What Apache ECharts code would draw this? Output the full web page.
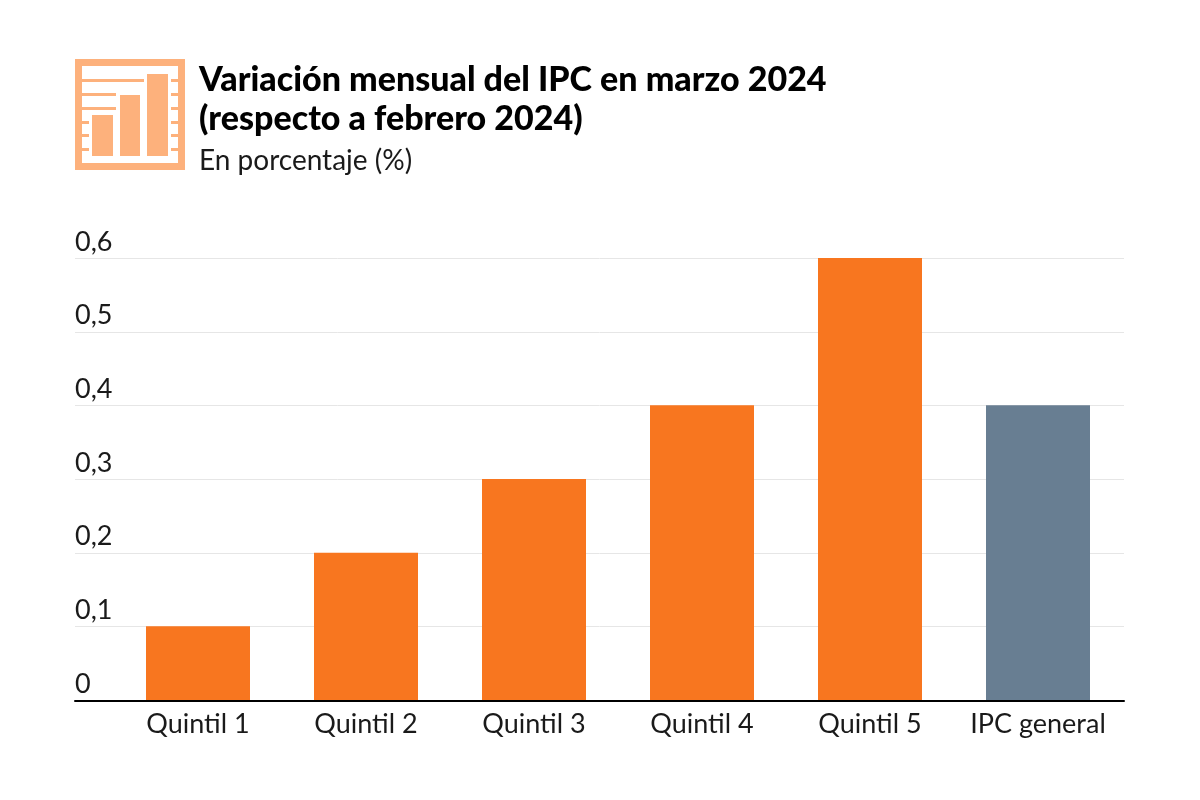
<!DOCTYPE html>
<html>
<head>
<meta charset="utf-8">
<style>
  html, body { margin: 0; padding: 0; background: #fff; }
  #chart { width: 1200px; height: 800px; }
</style>
<script src="https://cdn.jsdelivr.net/npm/echarts@6/dist/echarts.min.js"></script>
</head>
<body>
<div id="chart"></div>
<script>
var categories = ['Quintil 1', 'Quintil 2', 'Quintil 3', 'Quintil 4', 'Quintil 5', 'IPC general'];
var values = [0.1, 0.2, 0.3, 0.4, 0.6, 0.4];
var barColors = ['#F8761F', '#F8761F', '#F8761F', '#F8761F', '#F8761F', '#687E92'];
var titleText = 'Variación mensual del IPC en marzo 2024\n(respecto a febrero 2024)';
var subtitleText = 'En porcentaje (%)';

var font = 'Lato, "Open Sans", sans-serif';
var iconColor = '#FDB17C';

// icono de la esquina: marco, barras y rayas
var icon = [];
function iconRect(x, y, w, h, fill) {
    icon.push({ type: 'rect', shape: { x: x, y: y, width: w, height: h }, style: { fill: fill }, silent: true });
}
iconRect(75, 59, 110, 111, iconColor);
iconRect(82, 66, 96, 97, '#fff');
var rowsY = [79, 93, 107, 121, 134, 148];
var rowsEnd = [144, 116, 116, 89, 89, 89];
for (var i = 0; i < rowsY.length; i++) {
    iconRect(82, rowsY[i], rowsEnd[i] - 82, 3, iconColor);
    iconRect(171, rowsY[i], 7, 3, iconColor);
}
iconRect(92, 115, 21, 41, iconColor);
iconRect(120, 95, 20, 61, iconColor);
iconRect(147, 74, 21, 82, iconColor);

var chart = echarts.init(document.getElementById('chart'));
chart.setOption({
    animation: false,
    backgroundColor: '#fff',
    title: {
        left: 199, top: 61, padding: 0,
        text: titleText,
        subtext: subtitleText,
        itemGap: 7,
        textStyle: { fontFamily: font, fontSize: 34, fontWeight: 900, color: '#000', lineHeight: 39 },
        subtextStyle: { fontFamily: font, fontSize: 28, color: '#1a1a1a', lineHeight: 30 }
    },
    grid: [
        // rejilla ancha para lineas y etiquetas del eje y
        { left: 75, right: 76, top: 258.3, height: 442 },
        // rejilla de las barras
        { left: 114, right: 78, top: 258, height: 442 }
    ],
    xAxis: [
        {
            gridIndex: 0, type: 'category', data: [''], offset: 1,
            axisLine: { lineStyle: { color: '#000', width: 2 } },
            axisTick: { show: false }, axisLabel: { show: false }
        },
        {
            gridIndex: 1, type: 'category', data: categories,
            axisLine: { show: false }, axisTick: { show: false },
            axisLabel: { interval: 0, fontFamily: font, fontSize: 27, color: '#1a1a1a', margin: 11 }
        }
    ],
    yAxis: [
        {
            gridIndex: 0, type: 'value', min: 0, max: 0.6, interval: 0.1,
            axisLine: { show: false }, axisTick: { show: false },
            splitLine: { lineStyle: { color: '#E6E6E6', width: 1 } },
            axisLabel: {
                inside: true, margin: 0, verticalAlign: 'bottom', padding: [0, 0, 3, 0],
                fontFamily: font, fontSize: 27, color: '#1a1a1a',
                formatter: function (v) { return v === 0 ? '0' : v.toFixed(1).replace('.', ','); }
            }
        },
        {
            gridIndex: 1, type: 'value', min: 0, max: 0.6, interval: 0.1,
            axisLine: { show: false }, axisTick: { show: false },
            splitLine: { show: false }, axisLabel: { show: false }
        }
    ],
    series: [{
        type: 'bar',
        xAxisIndex: 1, yAxisIndex: 1,
        barWidth: 104,
        data: values.map(function (v, i) {
            return { value: v, itemStyle: { color: barColors[i] } };
        })
    }],
    graphic: icon
});
</script>
</body>
</html>
